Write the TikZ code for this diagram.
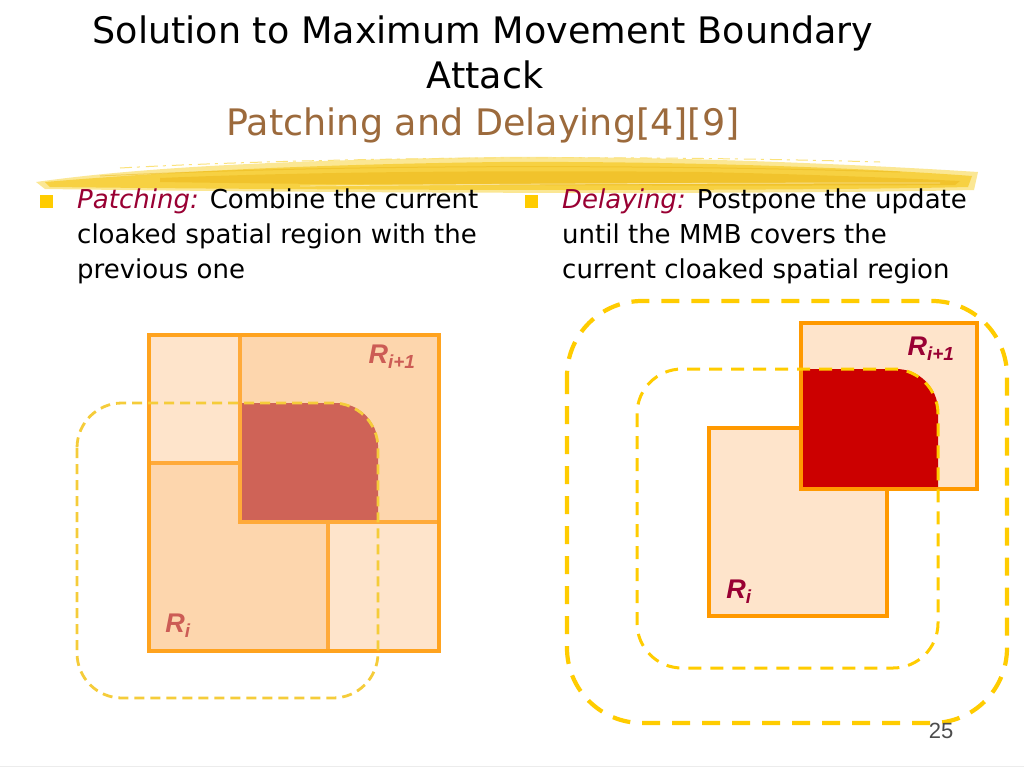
\documentclass[tikz,border=0pt]{standalone}
\usepackage{fontspec}
\setmainfont{DejaVu Sans}
\newfontfamily\labfont{Liberation Sans}
\usetikzlibrary{calc}
\definecolor{frameor}{HTML}{FF9900}
\definecolor{frameorl}{HTML}{FFA31F}
\definecolor{lineorl}{HTML}{FFAA3A}
\definecolor{fillL}{HTML}{FEE4CB}
\definecolor{fillM}{HTML}{FDD6AD}
\definecolor{redL}{HTML}{CF6357}
\definecolor{redD}{HTML}{CC0000}
\definecolor{labL}{HTML}{CC5C55}
\definecolor{labD}{HTML}{990033}
\definecolor{dashY}{HTML}{FFCC00}
\definecolor{dashYL}{HTML}{F5CC3A}
\definecolor{titbrown}{HTML}{9C6A3C}
\definecolor{bulY}{HTML}{FFCC00}
\definecolor{brushA}{HTML}{F7CF3A}
\definecolor{brushB}{HTML}{EDB81A}
\definecolor{brushC}{HTML}{FBE27A}
\tikzset{
  titletext/.style={font=\fontsize{36.5}{40}\selectfont, anchor=center, inner sep=0pt},
  bodytext/.style={font=\fontsize{26}{35}\selectfont, anchor=north west, inner sep=0pt, align=left},
  bulletbox/.style={fill=bulY, draw=none},
  reglab/.style={font=\labfont\bfseries\itshape\fontsize{27}{28}\selectfont, inner sep=0pt},
  framebox/.style={draw=frameor, line width=4pt},
  dashsmall/.style={draw=dashYL, line width=2.8pt, dash pattern=on 10pt off 6pt},
  dashmid/.style={draw=dashY, line width=3pt, dash pattern=on 13pt off 9pt},
  dashbig/.style={draw=dashY, line width=4.2pt, dash pattern=on 18pt off 12pt},
}
\begin{document}
\begin{tikzpicture}[x=1pt,y=-1pt]
\useasboundingbox (0,0) rectangle (1024,768);
\fill[white] (0,0) rectangle (1024,768);
\draw[gray!15, line width=1pt] (0,766) -- (1024,766);

% title
\node[titletext] (t1) at (483,33) {Solution to Maximum Movement Boundary};
\node[titletext] (t2) at (485,75) {Attack};
\node[titletext, text=titbrown] (t3) at (483,125) {Patching and Delaying[4][9]};

% brush stroke
\fill[brushC, opacity=0.8] (36,182) .. controls (150,166) and (300,160) .. (500,157)
  .. controls (700,156) and (900,167) .. (978,172) -- (974,190)
  .. controls (800,194) and (400,194) .. (45,189) -- cycle;
\fill[brushA, opacity=0.9] (45,182) .. controls (200,169) and (350,164) .. (500,162)
  .. controls (700,161) and (880,169) .. (972,176) -- (968,187)
  .. controls (800,191) and (400,191) .. (50,187) -- cycle;
\fill[brushB, opacity=0.55] (160,178) .. controls (300,172) and (500,170) .. (700,172)
  .. controls (800,174) and (900,178) .. (960,181) -- (955,185)
  .. controls (800,186) and (400,186) .. (160,182) -- cycle;
\draw[brushB, opacity=0.5, line width=1pt] (100,176) .. controls (300,166) and (600,163) .. (900,172);
\draw[white, opacity=0.5, line width=0.8pt] (300,186) .. controls (500,184) and (700,183) .. (940,183);
\draw[brushC, line width=1pt, dash pattern=on 12pt off 5pt on 3pt off 6pt] (120,168) .. controls (300,158) and (600,154) .. (880,162);

% bullets and text
\fill[bulletbox] (40,195) rectangle (53,208);
\node[bodytext] (ptext) at (77,189) {{\color{labD}\itshape Patching:} Combine the current\\cloaked spatial region with the\\previous one};
\fill[bulletbox] (525,195) rectangle (538,208);
\node[bodytext] (dtext) at (562,189) {{\color{labD}\itshape Delaying:} Postpone the update\\until the MMB covers the\\current cloaked spatial region};

% ---------- left diagram ----------
\fill[fillL] (149,335) rectangle (240,463);
\fill[fillM] (240,335) rectangle (439,522);
\fill[fillM] (149,463) rectangle (328,651);
\fill[fillL] (328,522) rectangle (439,651);
\fill[redL] (240,522) -- (240,403) [rounded corners=42pt] -- (378,403) [sharp corners] -- (378,522) -- cycle;
\draw[lineorl, line width=3.5pt] (240,335) -- (240,522) -- (439,522);
\draw[lineorl, line width=3.5pt] (149,463) -- (240,463);
\draw[lineorl, line width=3.5pt] (328,522) -- (328,651);
\draw[draw=frameorl, line width=4pt] (149,335) rectangle (439,651);
\draw[dashsmall, rounded corners=45pt] (77,403) rectangle (378,698);
\node[reglab, text=labL] (lri1) at (392,357) {R\textsubscript{i+1}};
\node[reglab, text=labL] (lri) at (178,626) {R\textsubscript{i}};

% ---------- right diagram ----------
\draw[dashbig, rounded corners=75pt] (567,301) rectangle (1007,723);
\fill[fillL] (709,428) rectangle (887,616);
\draw[framebox] (709,428) rectangle (887,616);
\fill[fillL] (801,323) rectangle (977,489);
\fill[redD] (801,489) -- (801,369) [rounded corners=42pt] -- (938,369) [sharp corners] -- (938,489) -- cycle;
\draw[framebox] (801,323) rectangle (977,489);
\draw[dashmid, rounded corners=45pt] (637,369) rectangle (938,668);
\node[reglab, text=labD] (rri1) at (931,349) {R\textsubscript{i+1}};
\node[reglab, text=labD] (rri) at (739,592) {R\textsubscript{i}};

% page number
\node[font=\labfont\fontsize{22}{24}\selectfont, text=black!70, inner sep=0pt] (pnum) at (941,731) {25};
\end{tikzpicture}
\end{document}
